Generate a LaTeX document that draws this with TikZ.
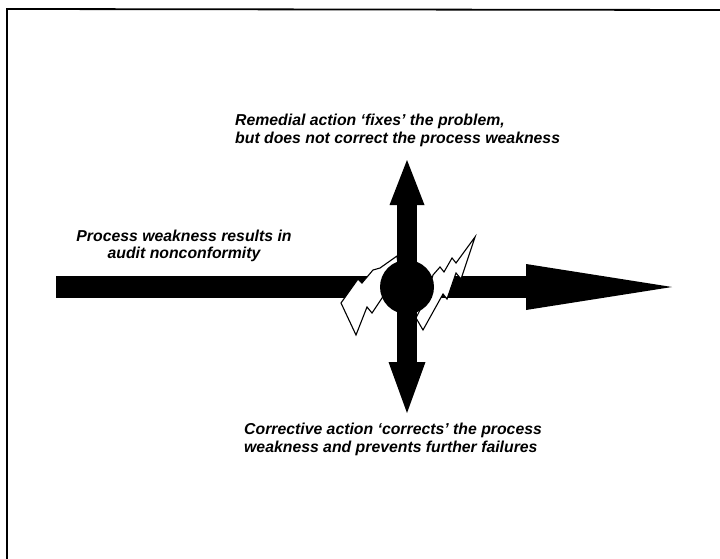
\documentclass[tikz,border=0pt]{standalone}
\usepackage{fontspec}
\setmainfont{Liberation Sans}
\usetikzlibrary{arrows.meta, positioning, calc}
\newcommand{\lbl}{\bfseries\itshape\fontsize{15.8}{17.5}\selectfont}

\begin{document}
\begin{tikzpicture}[x=1pt, y=-1pt,
    note/.style={font=\lbl, inner sep=0pt},
    beam/.style={line width=22pt, -{Triangle[length=146pt, width=46pt, line width=0pt]}},
    stem/.style={line width=20pt,
        {Triangle[length=45pt, width=35pt, line width=0pt]}-{Triangle[length=51pt, width=37pt, line width=0pt]}},
    bolt/.style={draw=black, fill=white, line width=1.1pt, line join=miter},
    hub/.style={circle, fill=black, minimum size=54pt, inner sep=0pt}
]
\useasboundingbox (0,0) rectangle (720,559);

% frame (cut off at right and bottom)
\draw[line width=1.8pt] (7,559) -- (7,9) -- (720,10);

\coordinate (hubc) at (407,287);
\coordinate (tail) at (56,287);
\coordinate (tipR) at (672,287);
\coordinate (tipU) at (407,160);
\coordinate (tipD) at (407,413);

\draw[beam] (tail) -- (tipR);

% lightning bolts
\filldraw[bolt] (397,256) -- (380,268) -- (373,270) -- (362,283) -- (358,279)
    -- (341,303) -- (356,335) -- (367,307) -- (372,313) -- (382,298) -- (400,280) -- cycle;
\filldraw[bolt] (475,237) -- (461,279) -- (456,273) -- (447,299) -- (443,294)
    -- (423,330) -- (416,318) -- (425,300) -- (433,275) -- (440,267) -- (444,272)
    -- (452,258) -- (456,263) -- cycle;

\draw[stem] (tipU) -- (tipD);
\node[hub] (hub) at (hubc) {};

\node[note, anchor=north west, align=left] (remedial) at (235,114)
    {Remedial action ‘fixes’ the problem,\\but does not correct the process weakness};
\node[note, align=center] (weakness) at (184,246)
    {Process weakness results in\\audit nonconformity};
\node[note, anchor=north west, align=left] (corrective) at (244,423)
    {Corrective action ‘corrects’ the process\\weakness and prevents further failures};

\end{tikzpicture}
\end{document}
